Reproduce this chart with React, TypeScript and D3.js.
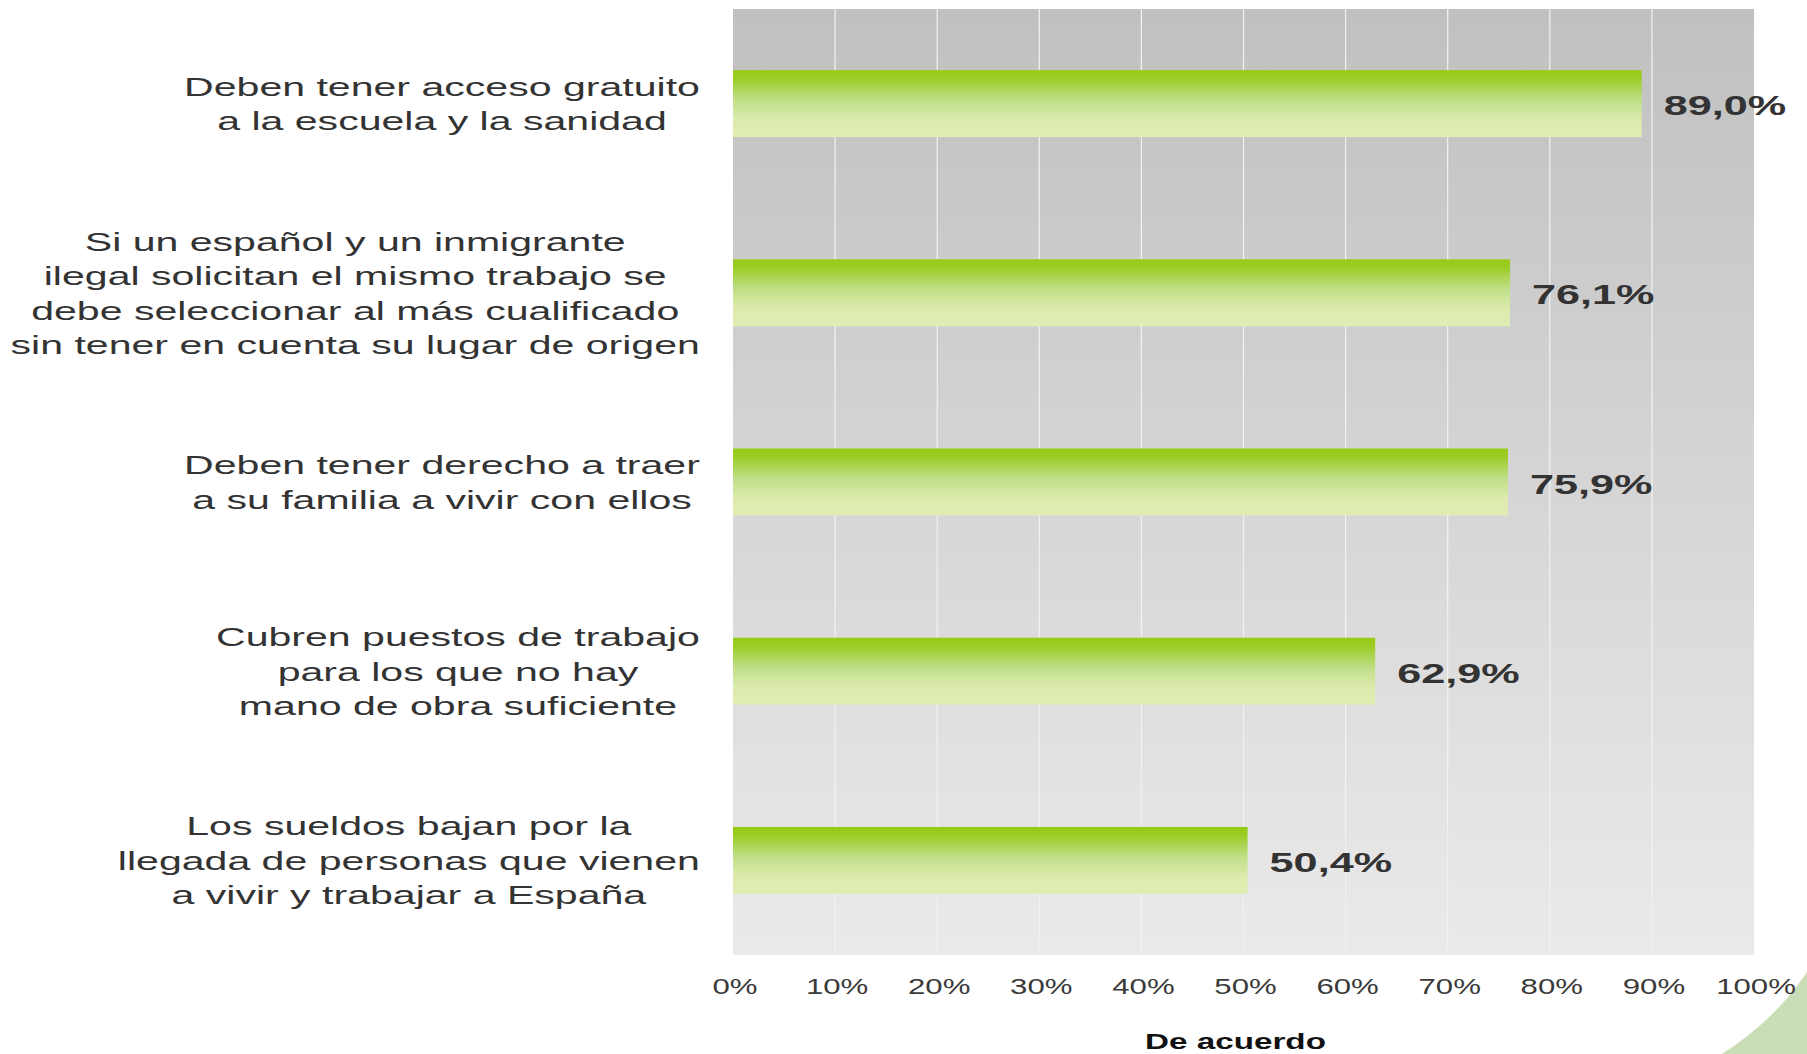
import React from "react";
import * as d3 from "d3";

const categories: string[] = [
  "Deben tener acceso gratuito\na la escuela y la sanidad",
  "Si un español y un inmigrante\nilegal solicitan el mismo trabajo se\ndebe seleccionar al más cualificado\nsin tener en cuenta su lugar de origen",
  "Deben tener derecho a traer\na su familia a vivir con ellos",
  "Cubren puestos de trabajo\npara los que no hay\nmano de obra suficiente",
  "Los sueldos bajan por la\nllegada de personas que vienen\na vivir y trabajar a España",
];
const values: number[] = [89.0, 76.1, 75.9, 62.9, 50.4];
const ticks: number[] = [0, 10, 20, 30, 40, 50, 60, 70, 80, 90, 100];
const axisTitle = "De acuerdo";

const W = 1807;
const H = 1054;
const FONT = "'Liberation Sans', Arial, Helvetica, sans-serif";

const esLocale = d3.formatLocale({ decimal: ",", thousands: ".", grouping: [3], currency: ["", "€"] });
const fmtValue = (v: number) => esLocale.format(".1f")(v) + "%";
const fmtTick = (v: number) => esLocale.format("d")(v) + "%";

let measureCtx: CanvasRenderingContext2D | null = null;
function measure(text: string, font: string): number {
  if (!measureCtx) {
    const c = document.createElement("canvas");
    measureCtx = c.getContext("2d");
  }
  if (!measureCtx) return text.length * 12;
  measureCtx.font = font;
  return measureCtx.measureText(text).width;
}

export default function App() {
  const left = 733, right = 1754, top = 9, bottom = 955;
  const x = d3.scaleLinear().domain([0, 100]).range([left, right]);
  const y = d3.scaleBand<string>().domain(categories).range([top, bottom]).paddingInner(0.646).paddingOuter(0.323);

  const catSize = 26.5;
  const catSx = 1.55;
  const catLine = 34.5;
  const catRight = 700;

  return (
    <svg width={W} height={H} style={{ position: "absolute", left: 0, top: 0, display: "block" }} fontFamily={FONT}>
      <defs>
        <linearGradient id="bg" x1="0" y1="0" x2="0" y2="1">
          <stop offset="0" stopColor="#c0c0c0" />
          <stop offset="1" stopColor="#eaeaea" />
        </linearGradient>
        <linearGradient id="bar" x1="0" y1="0" x2="0" y2="1">
          <stop offset="0" stopColor="#97cb14" />
          <stop offset="0.12" stopColor="#9bcc25" />
          <stop offset="0.45" stopColor="#c0df88" />
          <stop offset="0.75" stopColor="#ddebae" />
          <stop offset="1" stopColor="#e0edb3" />
        </linearGradient>
      </defs>
      <rect x={0} y={0} width={W} height={H} fill="#ffffff" />
      <path d="M1722,1054 Q1775,1020 1807,972 L1807,1054 Z" fill="#c9ddb6" />
      <rect x={left} y={top} width={right - left} height={bottom - top} fill="url(#bg)" />
      {ticks.slice(1, -1).map((t) => (
        <line key={t} x1={x(t)} x2={x(t)} y1={top} y2={bottom} stroke="#f2f2f2" strokeWidth={1.2} />
      ))}
      {categories.map((c, i) => {
        const by = y(c) as number;
        const bw = y.bandwidth();
        const cy = by + bw / 2;
        return (
          <g key={c}>
            <rect x={x(0)} y={by} width={x(values[i]) - x(0)} height={bw} fill="url(#bar)" />
            <text
              transform={`translate(${x(values[i]) + 22},${cy + 11.5}) scale(1.6,1)`}
              fontSize={27}
              fontWeight="bold"
              fill="#333333"
            >
              {fmtValue(values[i])}
            </text>
          </g>
        );
      })}
      {categories.map((c) => {
        const lines = c.split("\n");
        const font = `${catSize}px ${FONT}`;
        const maxW = Math.max(...lines.map((l) => measure(l, font))) * catSx;
        const cx = catRight - maxW / 2;
        const cy = (y(c) as number) + y.bandwidth() / 2;
        return (
          <g key={"lab" + c}>
            {lines.map((l, j) => (
              <text
                key={j}
                transform={`translate(${cx},${cy + (j - (lines.length - 1) / 2) * catLine + 9.5}) scale(${catSx},1)`}
                textAnchor="middle"
                fontSize={catSize}
                fill="#333333"
              >
                {l}
              </text>
            ))}
          </g>
        );
      })}
      {ticks.map((t) => (
        <text
          key={"t" + t}
          transform={`translate(${x(t) + 2},994) scale(1.45,1)`}
          textAnchor="middle"
          fontSize={21.5}
          fill="#3a3a3a"
        >
          {fmtTick(t)}
        </text>
      ))}
      <text
        transform={`translate(${(left + right) / 2 - 8},1049) scale(1.51,1)`}
        textAnchor="middle"
        fontSize={22}
        fontWeight="bold"
        fill="#111111"
      >
        {axisTitle}
      </text>
    </svg>
  );
}
